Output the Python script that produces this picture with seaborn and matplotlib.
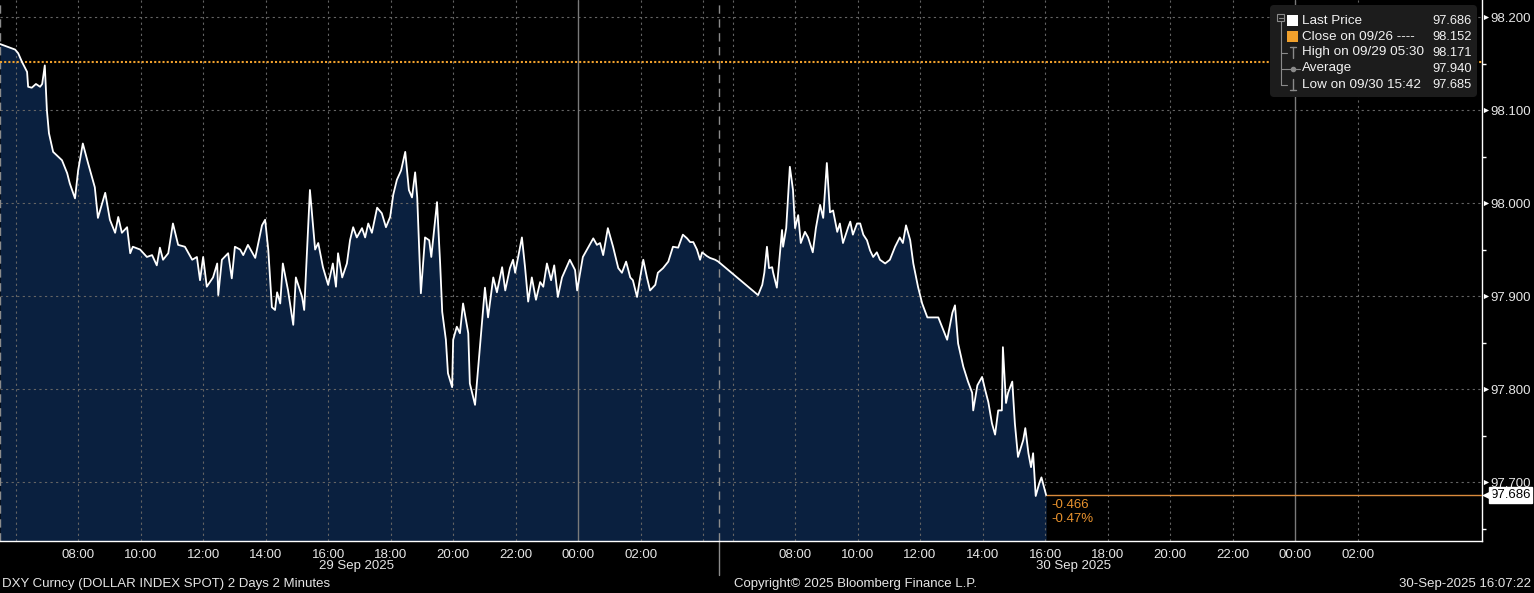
import numpy as np
import pandas as pd
import matplotlib
matplotlib.use("Agg")
import matplotlib.pyplot as plt
import seaborn as sns
from matplotlib.patches import FancyBboxPatch, Rectangle
from matplotlib.transforms import blended_transform_factory

# ---- data (DXY intraday, 2 minute bars) ----
day1_times = ["05:30", "05:49", "05:59", "06:05", "06:12", "06:22", "06:24", "06:31", "06:39", "06:47",
              "06:51", "06:56", "07:00", "07:04", "07:12", "07:29", "07:39", "07:44", "07:54", "08:00",
              "08:09", "08:19", "08:32", "08:38", "08:52", "09:01", "09:11", "09:17", "09:24", "09:34",
              "09:40", "09:45", "09:59", "10:12", "10:22", "10:31", "10:37", "10:43", "10:53", "11:02",
              "11:12", "11:25", "11:39", "11:48", "11:54", "12:00", "12:07", "12:19", "12:27", "12:29",
              "12:36", "12:48", "12:55", "13:01", "13:11", "13:17", "13:26", "13:40", "13:53", "13:59",
              "14:05", "14:12", "14:18", "14:22", "14:28", "14:33", "14:43", "14:53", "14:58", "15:10",
              "15:14", "15:25", "15:35", "15:41", "15:50", "16:00", "16:09", "16:15", "16:19", "16:27",
              "16:36", "16:42", "16:48", "16:55", "17:05", "17:11", "17:17", "17:24", "17:34", "17:43",
              "17:51", "17:59", "18:05", "18:12", "18:20", "18:28", "18:35", "18:41", "18:47", "18:51",
              "18:58", "19:06", "19:14", "19:18", "19:29", "19:35", "19:39", "19:46", "19:50", "19:58",
              "20:00", "20:07", "20:13", "20:19", "20:29", "20:32", "20:42", "20:52", "21:01", "21:07",
              "21:17", "21:24", "21:34", "21:40", "21:49", "21:55", "21:59", "22:12", "22:18", "22:24",
              "22:31", "22:39", "22:47", "22:53", "23:00", "23:08", "23:14", "23:21", "23:29", "23:44",
              "23:54", "23:58", "00:09", "00:17", "00:29", "00:36", "00:42", "00:48", "00:57", "01:07",
              "01:17", "01:24", "01:32", "01:40", "01:45", "01:53", "01:59", "02:05", "02:12", "02:18",
              "02:28", "02:33", "02:43", "02:53", "03:02", "03:12", "03:21", "03:29", "03:35", "03:41",
              "03:48", "03:54", "03:58", "04:07", "04:13", "04:23", "04:29"]
day1_values = [98.171, 98.167, 98.165, 98.161, 98.152, 98.141, 98.125, 98.124, 98.128, 98.125,
               98.128, 98.148, 98.100, 98.075, 98.055, 98.046, 98.032, 98.021, 98.005, 98.035,
               98.064, 98.043, 98.017, 97.984, 98.011, 97.982, 97.968, 97.985, 97.968, 97.974,
               97.946, 97.953, 97.950, 97.942, 97.944, 97.933, 97.952, 97.939, 97.946, 97.978,
               97.955, 97.953, 97.939, 97.942, 97.917, 97.942, 97.910, 97.920, 97.935, 97.901,
               97.939, 97.946, 97.919, 97.953, 97.950, 97.944, 97.955, 97.941, 97.976, 97.982,
               97.950, 97.888, 97.885, 97.904, 97.892, 97.935, 97.906, 97.869, 97.920, 97.899,
               97.885, 98.014, 97.950, 97.957, 97.931, 97.912, 97.935, 97.910, 97.946, 97.920,
               97.935, 97.960, 97.974, 97.963, 97.973, 97.963, 97.978, 97.968, 97.995, 97.989,
               97.974, 97.985, 98.009, 98.025, 98.035, 98.055, 98.014, 98.006, 98.033, 98.006,
               97.903, 97.963, 97.960, 97.942, 98.001, 97.935, 97.883, 97.853, 97.817, 97.802,
               97.853, 97.867, 97.860, 97.892, 97.860, 97.806, 97.783, 97.850, 97.909, 97.877,
               97.920, 97.904, 97.931, 97.906, 97.930, 97.939, 97.925, 97.963, 97.931, 97.894,
               97.920, 97.896, 97.915, 97.910, 97.935, 97.917, 97.933, 97.899, 97.920, 97.939,
               97.928, 97.906, 97.942, 97.950, 97.962, 97.955, 97.957, 97.944, 97.973, 97.953,
               97.930, 97.925, 97.937, 97.920, 97.917, 97.899, 97.920, 97.939, 97.920, 97.906,
               97.912, 97.925, 97.930, 97.937, 97.953, 97.952, 97.966, 97.962, 97.958, 97.958,
               97.950, 97.939, 97.947, 97.943, 97.941, 97.939, 97.937]

day2_times = ["06:49", "06:57", "07:01", "07:06", "07:10", "07:16", "07:18", "07:25", "07:31", "07:35",
              "07:37", "07:43", "07:50", "07:56", "08:00", "08:06", "08:11", "08:19", "08:25", "08:34",
              "08:40", "08:48", "08:54", "09:01", "09:07", "09:13", "09:21", "09:26", "09:32", "09:42",
              "09:46", "09:51", "09:59", "10:05", "10:11", "10:18", "10:24", "10:30", "10:37", "10:43",
              "10:53", "11:02", "11:12", "11:21", "11:27", "11:33", "11:41", "11:47", "11:56", "12:04",
              "12:14", "12:25", "12:35", "12:42", "12:52", "13:02", "13:07", "13:13", "13:23", "13:32",
              "13:40", "13:42", "13:50", "13:59", "14:05", "14:11", "14:18", "14:24", "14:30", "14:37",
              "14:39", "14:45", "14:49", "14:57", "15:02", "15:08", "15:18", "15:22", "15:28", "15:33",
              "15:37", "15:42", "15:49", "15:53", "16:02"]
day2_values = [97.901, 97.912, 97.925, 97.953, 97.930, 97.931, 97.925, 97.909, 97.946, 97.971,
               97.953, 97.973, 98.039, 98.014, 97.973, 97.987, 97.957, 97.969, 97.963, 97.947,
               97.973, 97.998, 97.984, 98.043, 97.990, 97.992, 97.969, 97.978, 97.957, 97.974,
               97.980, 97.966, 97.978, 97.978, 97.966, 97.960, 97.949, 97.942, 97.947, 97.939,
               97.935, 97.939, 97.953, 97.963, 97.957, 97.976, 97.960, 97.935, 97.910, 97.892,
               97.877, 97.877, 97.877, 97.867, 97.853, 97.882, 97.890, 97.849, 97.824, 97.808,
               97.796, 97.777, 97.804, 97.813, 97.799, 97.786, 97.763, 97.751, 97.777, 97.777,
               97.845, 97.785, 97.796, 97.808, 97.763, 97.727, 97.745, 97.758, 97.731, 97.716,
               97.731, 97.685, 97.699, 97.705, 97.686]

last_price = 97.686
prev_close = 98.152
close_date = "09/26"
high_value, high_when = 98.171, "09/29 05:30"
avg_value = 97.940
low_value, low_when = 97.685, "09/30 15:42"

y_ticks = [97.7, 97.8, 97.9, 98.0, 98.1, 98.2]
x_labels = ["08:00", "10:00", "12:00", "14:00", "16:00", "18:00", "20:00", "22:00", "00:00", "02:00"]
date_labels = ["29 Sep 2025", "30 Sep 2025"]
footer_left = "DXY Curncy (DOLLAR INDEX SPOT) 2 Days 2 Minutes"
footer_mid = "Copyright\u00a9 2025 Bloomberg Finance L.P."
footer_right = "30-Sep-2025 16:07:22"

# ---- session axis: day 1 starts 05:30, gap before day 2 is squeezed out ----
START = 5.5
DAY2_SHIFT = 22.94
BREAK = 23.0
X_MAX = 47.42
Y_MIN, Y_MAX = 97.6366, 98.2183


def to_pos(t, day):
    h, m = map(int, t.split(":"))
    hrs = h + m / 60
    if hrs < START:
        hrs += 24
    return hrs - START + (DAY2_SHIFT if day == 2 else 0)


df = pd.DataFrame({
    "pos": [to_pos(t, 1) for t in day1_times] + [to_pos(t, 2) for t in day2_times],
    "price": day1_values + day2_values,
})

sns.set_theme(style="dark", rc={"axes.facecolor": "black", "figure.facecolor": "black",
                                "axes.grid": False})
plt.rcParams["font.family"] = ["Liberation Sans", "DejaVu Sans"]

fill_col = "#0a203f"
grid_col = "#646464"
orange = "#f0a02c"
txt_col = "#e6e6e6"

fig = plt.figure(figsize=(15.34, 5.93), dpi=100, facecolor="black")
ax = fig.add_axes([0, 52 / 593, 1482 / 1534, 541 / 593])
ax.set_facecolor("black")

ax.fill_between(df["pos"], df["price"], Y_MIN, color=fill_col, lw=0, zorder=1)

# grid
for y in y_ticks:
    ax.axhline(y, color=grid_col, lw=0.8, ls=(0, (2, 3)), zorder=2)
for day in (1, 2):
    last_h = 28 if day == 1 else 26
    for h in range(6, last_h + 1, 2):
        t = f"{h % 24:02d}:00"
        if h == 24:
            ax.axvline(to_pos(t, day), color="#7a7a7a", lw=1, zorder=2)
        else:
            ax.axvline(to_pos(t, day), color=grid_col, lw=0.8, ls=(0, (2, 3)), zorder=2)
for xb in (0, BREAK):
    ax.axvline(xb, color="#8c8c8c", lw=1, ls=(0, (6, 4)), zorder=2, clip_on=False)
trans_xa = blended_transform_factory(ax.transData, ax.transAxes)
ax.plot([BREAK, BREAK], [0, -0.063], color="#8c8c8c", lw=1, transform=trans_xa, clip_on=False)

# previous close and last price lines
ax.axhline(prev_close, color=orange, lw=1.5, ls=(0, (1, 1)), zorder=3)
last_pos = df["pos"].iloc[-1]
ax.hlines(last_price, last_pos, X_MAX, color="#d98a3c", lw=1, zorder=3)

sns.lineplot(data=df, x="pos", y="price", estimator=None, sort=False,
             color="white", lw=1.3, ax=ax, zorder=4)

chg = last_price - prev_close
pct = chg / prev_close * 100
ax.annotate(f"{chg:.3f}\n{pct:.2f}%", xy=(last_pos, last_price), xytext=(4, -3),
            textcoords="offset points", ha="left", va="top", color="#e8922e",
            fontsize=9.5, linespacing=1.25)

ax.set_xlim(0, X_MAX)
ax.set_ylim(Y_MIN, Y_MAX)
ax.set_xlabel("")
ax.set_ylabel("")

# x ticks
major_pos = [to_pos(t, d) for d in (1, 2) for t in x_labels]
ax.set_xticks(major_pos)
ax.set_xticklabels(x_labels * 2)
minor_pos = []
for d, hrs in ((1, range(6, 29)), (2, range(6, 29))):
    minor_pos += [to_pos(f"{h % 24:02d}:00", d) for h in hrs]
ax.set_xticks(minor_pos, minor=True)
ax.tick_params(axis="x", which="both", colors="white", length=4, width=1,
               labelcolor=txt_col, labelsize=9.5, pad=2, direction="out")
for lab, d in zip(date_labels, (1, 2)):
    ax.text(to_pos("16:55", d), -0.047, lab, transform=trans_xa, ha="center", va="center",
            color=txt_col, fontsize=9.5)

# y ticks on the right
ax.yaxis.tick_right()
ax.set_yticks(y_ticks)
ax.set_yticklabels([f"{v:.3f}" for v in y_ticks])
ax.set_yticks([v + 0.05 for v in [97.6] + y_ticks[:-1]], minor=True)
ax.tick_params(axis="y", which="major", length=0, pad=6, labelcolor=txt_col, labelsize=9.5)
ax.tick_params(axis="y", which="minor", length=3, width=1, colors="white", right=True, left=False)
trans_ay = blended_transform_factory(ax.transAxes, ax.transData)
ax.scatter([1.0025] * len(y_ticks), y_ticks, marker=">", s=14, color="white",
           transform=trans_ay, clip_on=False, zorder=5, lw=0)

for s in ("left", "top"):
    ax.spines[s].set_visible(False)
for s in ("bottom", "right"):
    ax.spines[s].set_visible(True)
    ax.spines[s].set_color("white")
    ax.spines[s].set_linewidth(1)

# last price tag
ax.annotate(f"{last_price:.3f}", xy=(1, last_price), xycoords=trans_ay, xytext=(6, 0),
            textcoords="offset points", ha="left", va="center", color="black", fontsize=9.5,
            bbox=dict(boxstyle="square,pad=0.12", fc="white", ec="white"),
            annotation_clip=False, zorder=6)
ax.scatter([1.0035], [last_price], marker="<", s=60, color="white", transform=trans_ay,
           clip_on=False, zorder=6, lw=0)

# ---- legend box (pixel coords overlay) ----
ov = fig.add_axes([0, 0, 1, 1], zorder=10)
ov.set_xlim(0, 1534)
ov.set_ylim(593, 0)
ov.axis("off")
ov.patch.set_alpha(0)

ov.add_patch(FancyBboxPatch((1270, 5), 207, 92, boxstyle="round,pad=0,rounding_size=4",
                            fc="#1c1c1c", ec="none"))
rows = [
    ("Last Price", f"{last_price:.3f}"),
    (f"Close on {close_date} ----", f"{prev_close:.3f}"),
    (f"High on {high_when}", f"{high_value:.3f}"),
    ("Average", f"{avg_value:.3f}"),
    (f"Low on {low_when}", f"{low_value:.3f}"),
]
row_y = [20.5, 36.5, 52.5, 68.5, 84.5]
for (lab, val), yy in zip(rows, row_y):
    ov.text(1302, yy, lab, color="#f2f2f2", fontsize=9.7, va="center", ha="left")
    ov.text(1472, yy, val, color="#f2f2f2", fontsize=9.3, va="center", ha="right")

icon_col = "#8a8a8a"
ov.add_patch(Rectangle((1277, 14), 7, 7, fill=False, ec=icon_col, lw=0.8))
ov.plot([1278.5, 1282.5], [17.5, 17.5], color=icon_col, lw=0.8)
ov.plot([1280.5, 1280.5], [21, 85], color=icon_col, lw=0.8)
for yy in row_y[2:]:
    ov.plot([1280.5, 1287], [yy, yy], color=icon_col, lw=0.8)
ov.add_patch(Rectangle((1287, 15), 11, 11, fc="white", ec="none"))
ov.add_patch(Rectangle((1287, 31), 11, 11, fc=orange, ec="none"))
ov.plot([1292.5, 1292.5], [47, 58], color=icon_col, lw=1)
ov.plot([1289.5, 1295.5], [47, 47], color=icon_col, lw=1)
ov.plot([1286, 1300], [68.5, 68.5], color=icon_col, lw=0.8)
ov.plot([1292.5], [68.5], marker="o", ms=3, color=icon_col)
ov.plot([1292.5, 1292.5], [79, 90], color=icon_col, lw=1)
ov.plot([1289.5, 1295.5], [90, 90], color=icon_col, lw=1)

# footer
fig.text(2 / 1534, 1 - 584 / 593, footer_left, color=txt_col, fontsize=9.5, ha="left", va="center")
fig.text(855 / 1534, 1 - 584 / 593, footer_mid, color=txt_col, fontsize=9.5, ha="center", va="center")
fig.text(1531 / 1534, 1 - 584 / 593, footer_right, color=txt_col, fontsize=9.5, ha="right", va="center")

fig.savefig("out.png", dpi=100, facecolor="black")
